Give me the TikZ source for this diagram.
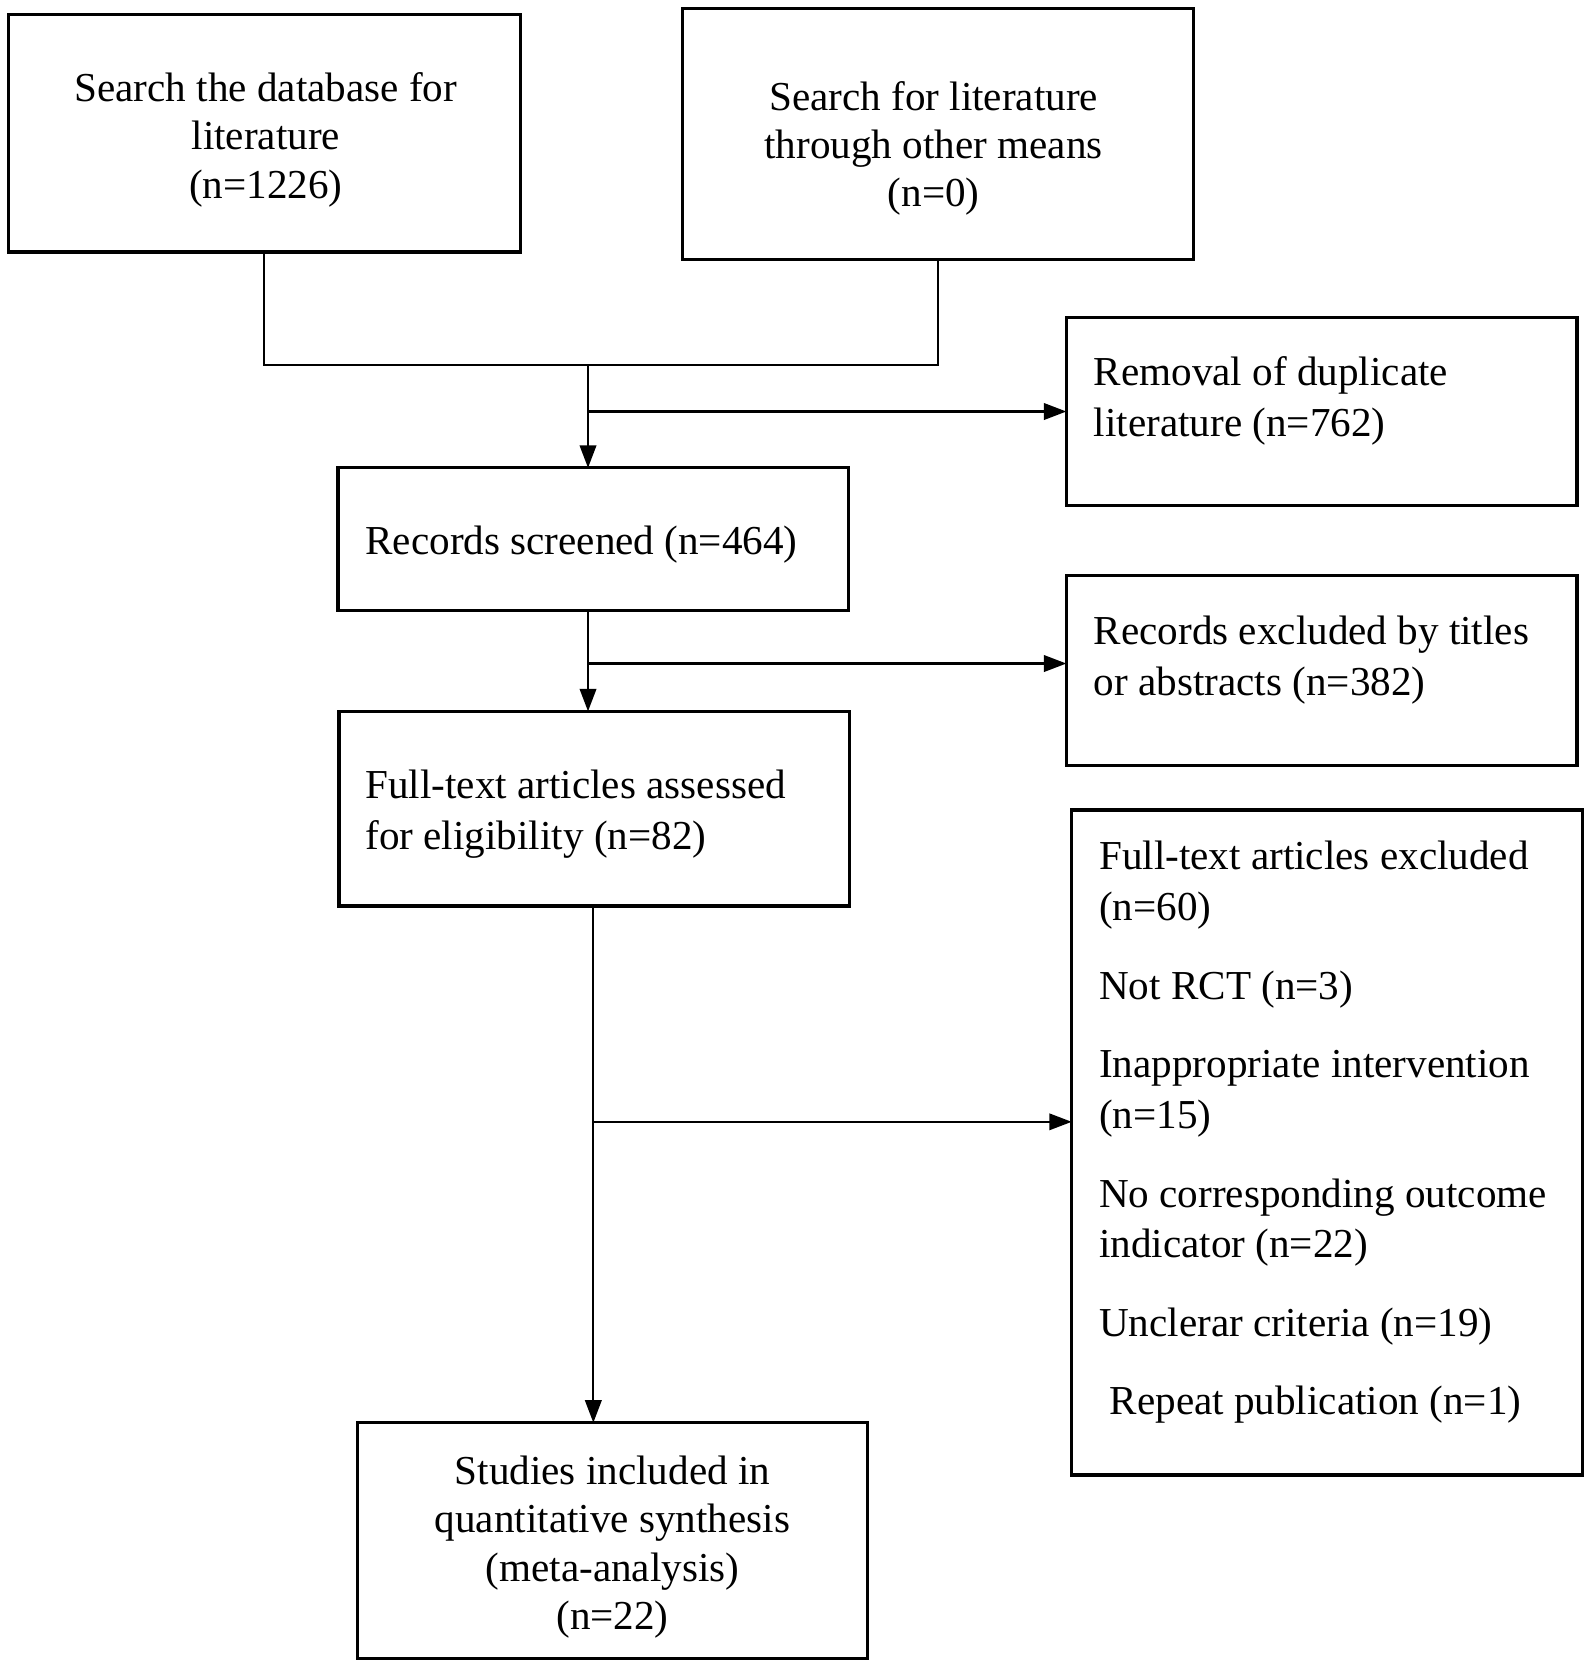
\documentclass[tikz,border=0pt]{standalone}
\usepackage{fontspec}
\setmainfont{Liberation Serif}
\usetikzlibrary{arrows.meta}
\begin{document}
\begin{tikzpicture}[x=0.01cm,y=-0.01cm,
 box/.style={draw,line width=0.85pt,inner sep=0pt,outer sep=0pt},
 ctxt/.style={inner sep=0pt,align=center,font=\fontsize{11}{12.95}\selectfont},
 ltxt/.style={inner sep=0pt,align=left,anchor=west,font=\fontsize{11}{13.6}\selectfont},
 conn/.style={line width=0.6pt},
 arr/.style={conn,-{Triangle[length=6pt,width=4.4pt]}}]
\useasboundingbox (0,0) rectangle (1500,1569.6);
% boxes
\node[box,minimum width=4.81cm,minimum height=2.23cm] (boxA) at (248.5,125.5) {};
\node[box,minimum width=4.80cm,minimum height=2.36cm] (boxB) at (882,126) {};
\node[box,minimum width=4.80cm,minimum height=1.76cm] (boxD) at (1243,387) {};
\node[box,minimum width=4.80cm,minimum height=1.34cm] (boxC) at (558,507) {};
\node[box,minimum width=4.80cm,minimum height=1.79cm] (boxF) at (1243,630.5) {};
\node[box,minimum width=4.80cm,minimum height=1.83cm] (boxE) at (559,760.5) {};
\node[box,minimum width=4.80cm,minimum height=6.25cm] (boxH) at (1248,1074.5) {};
\node[box,minimum width=4.80cm,minimum height=2.22cm] (boxG) at (576,1449) {};
% texts
\node[ctxt] (tA) at (250,131.5) {Search the database for\\literature\\(n=1226)};
\node[ctxt] (tB) at (878,139.5) {Search for literature\\through other means\\(n=0)};
\node[ltxt] (tD) at (1028,377) {Removal of duplicate\\literature (n=762)};
\node[ltxt] (tC) at (343,512) {Records screened (n=464)};
\node[ltxt] (tF) at (1028,621) {Records excluded by titles\\or abstracts (n=382)};
\node[ltxt] (tE) at (343,765.5) {Full-text articles assessed\\for eligibility (n=82)};
\node[ltxt] (tH) at (1033,1065) {Full-text articles excluded\\(n=60)\\[7.4pt]
Not RCT (n=3)\\[7.4pt]
Inappropriate intervention\\(n=15)\\[7.4pt]
No corresponding outcome\\indicator (n=22)\\[7.4pt]
Unclerar criteria (n=19)\\[7.4pt]
\hspace*{0.1cm}Repeat publication (n=1)};
\node[ctxt] (tG) at (576,1455) {Studies included in\\quantitative synthesis\\(meta-analysis)\\(n=22)};
% connectors
\coordinate (j1) at (553,343);
\coordinate (b1) at (553,387);
\coordinate (b2) at (553,624);
\coordinate (v2) at (558,0);
\coordinate (b3) at (558,1055);
\draw[conn] (boxA.south) |- (boxB.south |- j1) -- (boxB.south);
\draw[arr] (j1) -- (j1 |- boxC.north);
\draw[arr] (b1) -- (b1 -| boxD.west);
\draw[arr] (j1 |- boxC.south) -- (j1 |- boxE.north);
\draw[arr] (b2) -- (b2 -| boxF.west);
\draw[arr] (v2 |- boxE.south) -- (v2 |- boxG.north);
\draw[arr] (b3) -- (b3 -| boxH.west);
\end{tikzpicture}
\end{document}
